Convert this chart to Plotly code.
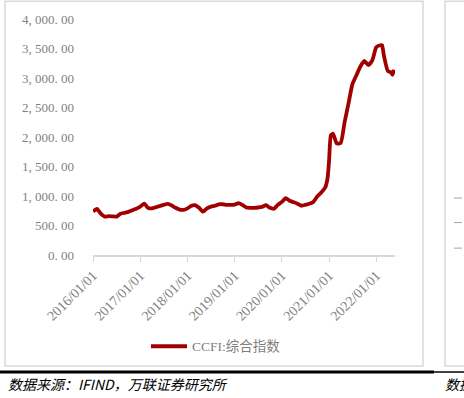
import plotly.graph_objects as go

# CCFI composite index, monthly readings (approx.)
dates = [
    "2016-01-01", "2016-02-01", "2016-03-01", "2016-04-01", "2016-05-01", "2016-06-01",
    "2016-07-01", "2016-08-01", "2016-09-01", "2016-10-01", "2016-11-01", "2016-12-01",
    "2017-01-01", "2017-02-01", "2017-03-01", "2017-04-01", "2017-05-01", "2017-06-01",
    "2017-07-01", "2017-08-01", "2017-09-01", "2017-10-01", "2017-11-01", "2017-12-01",
    "2018-01-01", "2018-02-01", "2018-03-01", "2018-04-01", "2018-05-01", "2018-06-01",
    "2018-07-01", "2018-08-01", "2018-09-01", "2018-10-01", "2018-11-01", "2018-12-01",
    "2019-01-01", "2019-02-01", "2019-03-01", "2019-04-01", "2019-05-01", "2019-06-01",
    "2019-07-01", "2019-08-01", "2019-09-01", "2019-10-01", "2019-11-01", "2019-12-01",
    "2020-01-01", "2020-02-01", "2020-03-01", "2020-04-01", "2020-05-01", "2020-06-01",
    "2020-07-01", "2020-08-01", "2020-09-01", "2020-10-01", "2020-11-01", "2020-12-01",
    "2020-12-20", "2021-01-01", "2021-01-15", "2021-02-01", "2021-03-01", "2021-04-01",
    "2021-05-01", "2021-06-01", "2021-07-01", "2021-08-01", "2021-09-01", "2021-10-01",
    "2021-11-01", "2021-12-01", "2022-01-01", "2022-02-01", "2022-02-15", "2022-03-01",
    "2022-04-01", "2022-04-22", "2022-05-06", "2022-05-20",
]
ccfi = [
    740, 780, 700, 650, 660, 655,
    650, 700, 715, 730, 760, 785,
    820, 870, 800, 790, 810, 830,
    850, 865, 840, 800, 770, 765,
    790, 835, 845, 800, 735, 790,
    820, 835, 860, 860, 850, 850,
    855, 880, 850, 805, 800, 800,
    805, 815, 845, 800, 785, 850,
    900, 965, 920, 895, 870, 835,
    850, 870, 900, 990, 1060, 1140,
    1300, 1600, 2030, 2055, 1890, 1900,
    2250, 2580, 2900, 3050, 3200, 3290,
    3220, 3300, 3520, 3555, 3555, 3380,
    3117, 3100, 3055, 3138,
]
y_ticks = [0, 500, 1000, 1500, 2000, 2500, 3000, 3500, 4000]
y_tick_text = ["0. 00", "500. 00", "1, 000. 00", "1, 500. 00", "2, 000. 00",
               "2, 500. 00", "3, 000. 00", "3, 500. 00", "4, 000. 00"]
series_name = "CCFI:综合指数"
source_text = "数据来源：IFIND，万联证券研究所"

L, R, T, B = 93, 395, 15, 255
W, H = 464, 398
pw, ph = R - L, B - T

def px(x):
    return (x - L) / pw

def py(y):
    return (B - y) / ph

fig = go.Figure()
fig.add_trace(go.Scatter(
    x=dates, y=ccfi, mode="lines", name=series_name,
    line=dict(color="#a00000", width=3.8, shape="spline", smoothing=0.5),
))

grey = "#d9d9d9"
shapes = [
    dict(type="rect", xref="paper", yref="paper", x0=px(5), x1=px(423), y0=py(368), y1=py(-3),
         line=dict(color=grey, width=1.5), layer="below"),
    dict(type="rect", xref="paper", yref="paper", x0=px(445), x1=px(480), y0=py(368), y1=py(-3),
         line=dict(color=grey, width=1.5), layer="below"),
    dict(type="line", xref="paper", yref="paper", x0=px(0), x1=px(434), y0=py(374), y1=py(374),
         line=dict(color="black", width=3)),
    dict(type="line", xref="paper", yref="paper", x0=px(434), x1=px(464), y0=py(374), y1=py(374),
         line=dict(color="black", width=1.5)),
]
for yy in (197, 222, 248):
    shapes.append(dict(type="line", xref="paper", yref="paper", x0=px(454), x1=px(462),
                       y0=py(yy), y1=py(yy), line=dict(color="#a6a6a6", width=1)))

serif = "Liberation Serif, DejaVu Serif, Noto Sans CJK SC"
fig.update_layout(
    width=W, height=H,
    margin=dict(l=L, r=W - R, t=T, b=H - B),
    paper_bgcolor="white", plot_bgcolor="white",
    showlegend=True,
    legend=dict(orientation="h", x=px(216), xanchor="center", y=py(348), yanchor="middle",
                font=dict(family=serif, size=13.5, color="#7f7f7f"),
                bgcolor="rgba(0,0,0,0)", itemwidth=36),
    xaxis=dict(
        type="date", range=["2016-01-01", "2022-05-26"],
        tick0="2016-01-01", dtick="M12", tickformat="%Y/%m/%d", tickangle=-45,
        showgrid=False, showline=True, linecolor=grey, linewidth=1.5,
        ticks="outside", ticklen=5, tickcolor=grey, tickwidth=1,
        tickfont=dict(family=serif, size=14, color="#7f7f7f"),
        zeroline=False,
    ),
    yaxis=dict(
        range=[0, 4000], tickvals=y_ticks, ticktext=y_tick_text,
        showgrid=False, showline=False, zeroline=False, ticks="",
        tickfont=dict(family=serif, size=13, color="#7f7f7f"),
        ticklabelstandoff=18,
    ),
    shapes=shapes,
    annotations=[
        dict(text=source_text, xref="paper", yref="paper", x=px(6), y=py(386),
             xanchor="left", yanchor="middle", showarrow=False,
             font=dict(family="Noto Sans CJK SC", size=14, color="black", style="italic")),
        dict(text="数据", xref="paper", yref="paper", x=px(443), y=py(386),
             xanchor="left", yanchor="middle", showarrow=False,
             font=dict(family="Noto Sans CJK SC", size=14, color="black", style="italic")),
    ],
)

fig.write_html("out.html")
